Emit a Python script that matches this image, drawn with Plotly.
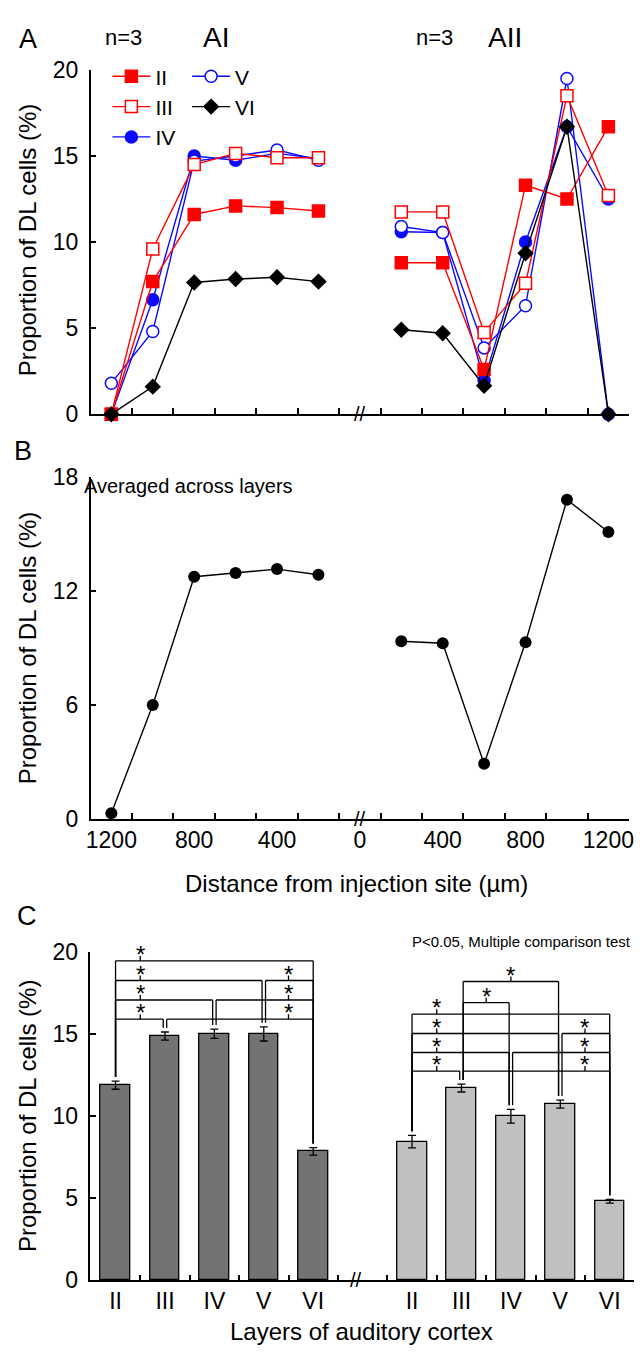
import plotly.graph_objects as go

W, H = 640, 1358
FONT = "Liberation Sans, Arial, sans-serif"

def px(x):
    return x / W

def py(y):
    return 1 - y / H

# ---------------- data ----------------
distance_ai = [1200, 1000, 800, 600, 400, 200]
distance_aii = [200, 400, 600, 800, 1000, 1200]

layer_names = ["II", "III", "IV", "V", "VI"]

II_ai = [0, 7.7, 11.6, 12.1, 12.0, 11.8]
II_aii = [8.8, 8.8, 2.6, 13.3, 12.5, 16.7]
III_ai = [0, 9.6, 14.5, 15.15, 14.9, 14.9]
III_aii = [11.75, 11.75, 4.75, 7.6, 18.5, 12.7]
IV_ai = [0, 6.65, 15.0, 14.75, 15.15, 14.85]
IV_aii = [10.6, 10.55, 1.95, 10.0, 16.7, 12.5]
V_ai = [1.8, 4.8, 14.7, 15.0, 15.35, 14.75]
V_aii = [10.9, 10.55, 3.85, 6.3, 19.5, 0]
VI_ai = [0, 1.6, 7.65, 7.85, 7.95, 7.7]
VI_aii = [4.9, 4.7, 1.65, 9.35, 16.7, 0]

avg_ai = [0.3, 6.0, 12.75, 12.95, 13.15, 12.85]
avg_aii = [9.35, 9.25, 2.9, 9.3, 16.8, 15.1]

bar_ai_mean = [11.88, 14.87, 15.01, 15.0, 7.84]
bar_ai_err = [0.25, 0.25, 0.28, 0.43, 0.23]
bar_aii_mean = [8.44, 11.70, 9.98, 10.72, 4.8]
bar_aii_err = [0.38, 0.24, 0.42, 0.24, 0.12]

# significance brackets: (bar index a, bar index b, level)  bar indices 0-4 AI, 5-9 AII
brackets = [
    (0, 1, 15.9), (1, 4, 15.9), (0, 2, 17.07), (2, 4, 17.07),
    (0, 3, 18.26), (3, 4, 18.26), (0, 4, 19.46),
    (5, 6, 12.74), (6, 9, 12.74), (5, 7, 13.87), (7, 9, 13.87),
    (5, 8, 15.03), (8, 9, 15.03), (5, 9, 16.21), (6, 7, 16.91), (6, 8, 18.2),
]
# star markers: (category position, level)
stars = [
    (0.5, 15.9), (0.5, 17.07), (0.5, 18.26), (0.5, 19.46),
    (3.5, 15.9), (3.5, 17.07), (3.5, 18.26),
    (6.5, 12.74), (6.5, 13.87), (6.5, 15.03), (6.5, 16.21),
    (9.5, 12.74), (9.5, 13.87), (9.5, 15.03),
    (7.5, 16.91), (8.0, 18.2),
]

# ---------------- figure ----------------
xs = [-d for d in distance_ai] + [0] + distance_aii

RED = "#ff0000"
BLUE = "#0a0aff"

fig = go.Figure()

layer_styles = {
    "II": dict(vals=(II_ai, II_aii), color=RED, symbol="square", fill=RED, legend="legend", rank=1, size=12),
    "III": dict(vals=(III_ai, III_aii), color=RED, symbol="square", fill="white", legend="legend", rank=2, size=12),
    "IV": dict(vals=(IV_ai, IV_aii), color=BLUE, symbol="circle", fill=BLUE, legend="legend", rank=3, size=12),
    "V": dict(vals=(V_ai, V_aii), color=BLUE, symbol="circle", fill="white", legend="legend2", rank=4, size=12),
    "VI": dict(vals=(VI_ai, VI_aii), color="black", symbol="diamond", fill="black", legend="legend2", rank=5, size=11),
}

for name in ["IV", "V", "III", "II", "VI"]:
    s = layer_styles[name]
    ys = list(s["vals"][0]) + [None] + list(s["vals"][1])
    fig.add_trace(go.Scatter(
        x=xs, y=ys, mode="lines+markers", name=name,
        line=dict(color=s["color"], width=1.4),
        marker=dict(symbol=s["symbol"], size=s["size"], color=s["fill"],
                    line=dict(color=s["color"], width=1.5)),
        cliponaxis=False, legend=s["legend"], legendrank=s["rank"],
        xaxis="x", yaxis="y",
    ))

fig.add_trace(go.Scatter(
    x=xs, y=list(avg_ai) + [None] + list(avg_aii), mode="lines+markers",
    line=dict(color="black", width=1.4),
    marker=dict(symbol="circle", size=12, color="black"),
    cliponaxis=False, showlegend=False, xaxis="x2", yaxis="y2",
))

pos_ai = [0, 1, 2, 3, 4]
pos_aii = [6, 7, 8, 9, 10]
fig.add_trace(go.Bar(
    x=pos_ai, y=bar_ai_mean, width=0.6,
    marker=dict(color="#737373", line=dict(color="black", width=1.3)),
    error_y=dict(type="data", array=bar_ai_err, color="black", thickness=1.3, width=4),
    showlegend=False, xaxis="x3", yaxis="y3",
))
fig.add_trace(go.Bar(
    x=pos_aii, y=bar_aii_mean, width=0.6,
    marker=dict(color="#c0c0c0", line=dict(color="black", width=1.3)),
    error_y=dict(type="data", array=bar_aii_err, color="black", thickness=1.3, width=4),
    showlegend=False, xaxis="x3", yaxis="y3",
))

# brackets
all_pos = pos_ai + pos_aii
all_top = [m + e for m, e in zip(bar_ai_mean + bar_aii_mean, bar_ai_err + bar_aii_err)]
shapes = []
LINE = dict(color="black", width=1.3)
d = 0.035
for a, b, lev in brackets:
    xa = all_pos[a] + (d if a not in (0, 5) else 0)
    xb = all_pos[b] - (d if b not in (4, 9) else 0)
    shapes.append(dict(type="line", xref="x3", yref="y3", x0=xa, x1=xb, y0=lev, y1=lev, line=LINE))
    shapes.append(dict(type="line", xref="x3", yref="y3", x0=xa, x1=xa, y0=all_top[a] + 0.25, y1=lev, line=LINE))
    shapes.append(dict(type="line", xref="x3", yref="y3", x0=xb, x1=xb, y0=all_top[b] + 0.25, y1=lev, line=LINE))
annotations = []
for sx, lev in stars:
    shapes.append(dict(type="line", xref="x3", yref="y3", x0=sx, x1=sx, y0=lev, y1=lev + 0.3, line=LINE))
    annotations.append(dict(text="*", x=sx, y=lev + 0.38, xref="x3", yref="y3", showarrow=False,
                            font=dict(size=24, color="black"), yanchor="middle", xanchor="center"))

# axis break marks
for xr, yr, xv in [("x", "y", 0), ("x2", "y2", 0), ("x3", "y3", 4.87)]:
    annotations.append(dict(text="//", x=xv, y=0, xref=xr, yref=yr, showarrow=False,
                            font=dict(size=20, color="black"), xanchor="center", yanchor="middle"))

def ptext(t, x, y, size, xanchor="center", **kw):
    annotations.append(dict(text=t, x=px(x), y=py(y), xref="paper", yref="paper", showarrow=False,
                            font=dict(size=size, color="black"), xanchor=xanchor, yanchor="middle", **kw))

ptext("A", 23, 26, 27)
ptext("B", 18, 447, 27)
ptext("C", 22, 921, 27)
ptext("n=3", 120, 25, 22)
ptext("AI", 214, 25, 28)
ptext("n=3", 436, 25, 22)
ptext("AII", 508, 25, 28)
ptext("Averaged across layers", 78, 482, 20, xanchor="left")
ptext("P<0.05, Multiple comparison test", 638, 947, 15, xanchor="right")
ptext("Distance from injection site (µm)", 357, 887, 24)
ptext("Layers of auditory cortex", 362, 1344, 24)
for yc in [231, 647, 1124]:
    ptext("Proportion of DL cells (%)", 23, yc, 24, textangle=-90)

odd_ticks = [v for v in range(-1100, 1200, 200)]
common_x = dict(showline=True, linecolor="black", linewidth=1.5, showgrid=False, zeroline=False,
                ticks="", tickfont=dict(size=23, color="black"))
minor_x = dict(tickmode="array", tickvals=odd_ticks, ticks="inside", ticklen=6,
               tickcolor="black", tickwidth=1.5, showgrid=False)
common_y = dict(showline=True, linecolor="black", linewidth=1.5, showgrid=False, zeroline=False,
                ticks="inside", ticklen=6, tickcolor="black", tickwidth=1.5,
                tickfont=dict(size=23, color="black"), ticklabelstandoff=6)
legend_common = dict(xanchor="left", yanchor="top", bgcolor="rgba(0,0,0,0)",
                     font=dict(size=21, color="black"), tracegroupgap=0, itemwidth=38,
                     traceorder="normal")

fig.update_layout(
    width=W, height=H, margin=dict(l=0, r=0, t=0, b=0),
    paper_bgcolor="white", plot_bgcolor="white",
    font=dict(family=FONT, color="black"),
    showlegend=True,
    xaxis=dict(domain=[px(87), px(634)], range=[-1300, 1300], anchor="y",
               showticklabels=False, minor=minor_x, **common_x),
    yaxis=dict(domain=[py(409), py(58)], range=[0, 20], anchor="x",
               tickvals=[0, 5, 10, 15, 20], **common_y),
    xaxis2=dict(domain=[px(87), px(634)], range=[-1300, 1300], anchor="y2",
                tickmode="array", tickvals=[-1200, -800, -400, 0, 400, 800, 1200],
                ticktext=["1200", "800", "400", "0", "400", "800", "1200"],
                minor=minor_x, **common_x),
    yaxis2=dict(domain=[py(821.7), py(473)], range=[0, 18], anchor="x2",
                tickvals=[0, 6, 12, 18], **common_y),
    xaxis3=dict(domain=[px(86.7), px(639.4)], range=[-0.51, 10.5], anchor="y3",
                tickmode="array", tickvals=pos_ai + pos_aii, ticktext=layer_names + layer_names,
                minor=dict(tickmode="array", tickvals=[v + 0.5 for v in range(0, 10)], ticks="inside",
                           ticklen=5, tickcolor="black", tickwidth=1.5, showgrid=False),
                **common_x),
    yaxis3=dict(domain=[py(1291.7), py(957.3)], range=[0, 20], anchor="x3",
                tickvals=[0, 5, 10, 15, 20], **common_y),
    legend=dict(x=px(104), y=py(44), **legend_common),
    legend2=dict(x=px(185), y=py(44), **legend_common),
    shapes=shapes,
    annotations=annotations,
    bargap=0,
)

fig.write_html("out.html", config={"displayModeBar": False},
               post_script="document.body.style.margin='0px';document.body.style.padding='0px';")
